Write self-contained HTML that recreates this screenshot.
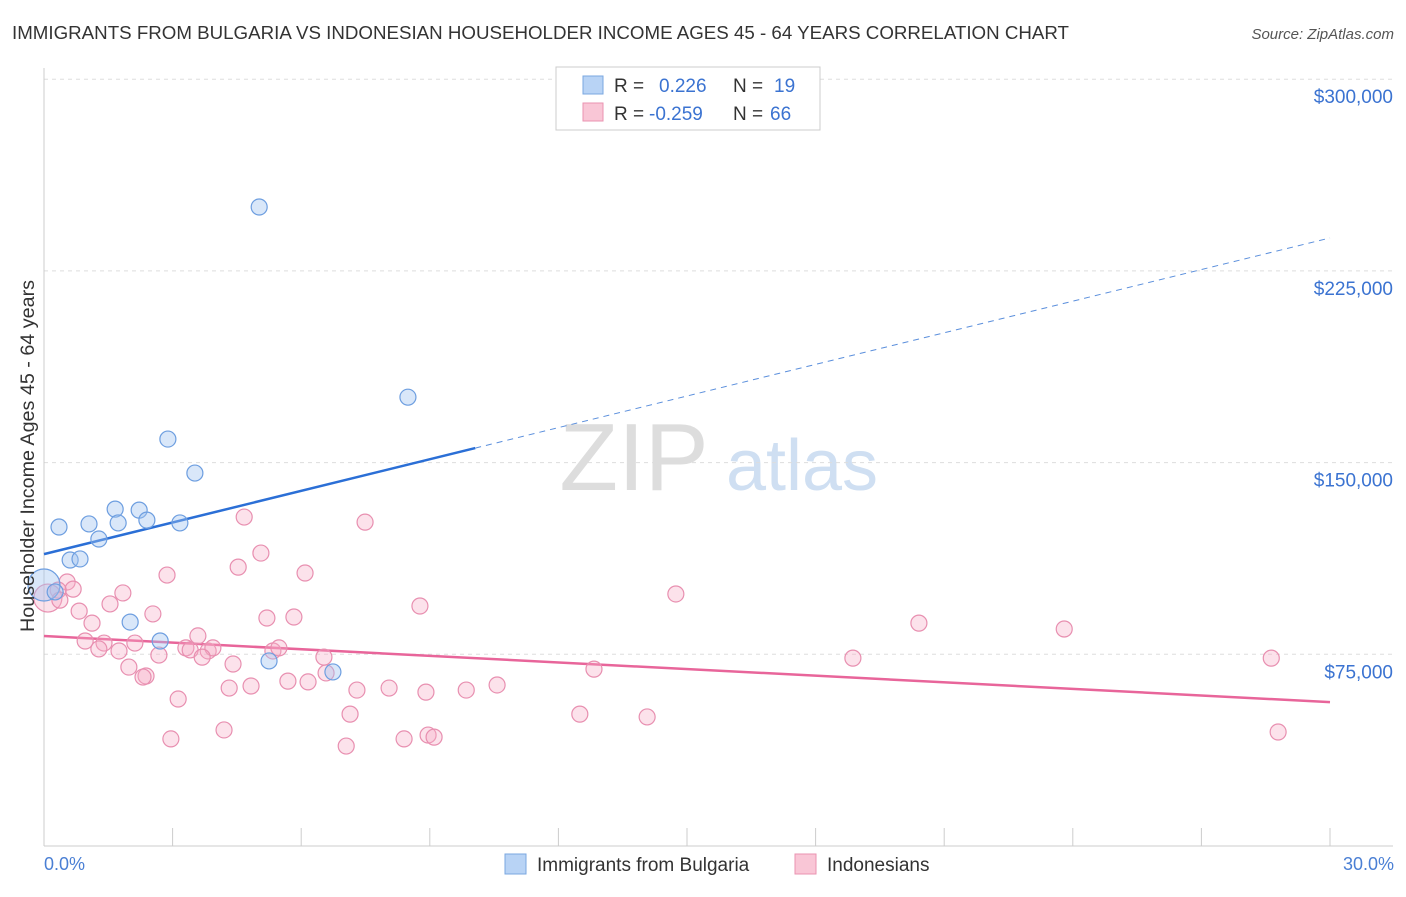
<!DOCTYPE html>
<html><head><meta charset="utf-8"><style>
body{margin:0;background:#fff;font-family:"Liberation Sans",sans-serif;}
svg text{font-family:"Liberation Sans",sans-serif;}
</style></head><body>
<svg id="chart" width="1406" height="892" xmlns="http://www.w3.org/2000/svg">
<text x="12" y="39" font-size="18" fill="#333" textLength="1057" lengthAdjust="spacingAndGlyphs">IMMIGRANTS FROM BULGARIA VS INDONESIAN HOUSEHOLDER INCOME AGES 45 - 64 YEARS CORRELATION CHART</text>
<text x="1394" y="39" font-size="15" fill="#555" text-anchor="end" font-style="italic">Source: ZipAtlas.com</text>
<g>
<text x="634" y="490" font-size="96" fill="#ddd" text-anchor="middle" font-family="Liberation Serif">ZIP</text>
<text x="802" y="490" font-size="72" fill="#cfdff2" text-anchor="middle">atlas</text>
</g>
<g id="grid"></g>
<g id="axes"></g>
<g id="trends"></g>
<g id="points"></g>
<text transform="translate(34,456) rotate(-90)" font-size="19" fill="#333" text-anchor="middle" textLength="352" lengthAdjust="spacingAndGlyphs">Householder Income Ages 45 - 64 years</text>
<text x="44" y="870" font-size="18" fill="#4a7fd4">0.0%</text>
<text x="1394" y="870" font-size="18" fill="#4a7fd4" text-anchor="end">30.0%</text>
<g>
<rect x="556" y="67" width="264" height="63" fill="#fff" stroke="#ccc"/>
<rect x="583" y="76" width="20" height="18" fill="#b8d3f5" stroke="#7aa7e0"/>
<rect x="583" y="103" width="20" height="18" fill="#f9c6d6" stroke="#ea93b0"/>
<text x="614" y="92" font-size="19" fill="#333">R = <tspan x="659" fill="#3b73d1">0.226</tspan><tspan x="733">N = </tspan><tspan x="774" fill="#3b73d1">19</tspan></text>
<text x="614" y="120" font-size="19" fill="#333">R = <tspan x="649" fill="#3b73d1">-0.259</tspan><tspan x="733">N = </tspan><tspan x="770" fill="#3b73d1">66</tspan></text>
</g>
<g>
<rect x="505" y="854" width="21" height="20" fill="#b8d3f5" stroke="#7aa7e0"/>
<text x="537" y="871" font-size="19" fill="#333">Immigrants from Bulgaria</text>
<rect x="795" y="854" width="21" height="20" fill="#f9c6d6" stroke="#ea93b0"/>
<text x="827" y="871" font-size="19" fill="#333">Indonesians</text>
</g>
</svg>
<script>
const yTicks=[75000,150000,225000,300000];
const yTickLabels=["$75,000","$150,000","$225,000","$300,000"];
const xTicks=[0,3,6,9,12,15,18,21,24,27,30];
const bulgariaX=[5.02,8.49,2.89,3.52,0.35,1.05,1.66,1.73,2.22,2.40,3.17,1.28,0.61,0.84,0.0,0.26,2.01,2.71,5.25,6.74];
const bulgariaY=[250000,175600,159200,145900,124800,126000,131800,126400,131400,127500,126400,120100,111900,112300,102100,99400,87600,80200,72400,68100];
const indoX=[4.67,7.49,5.06,2.87,4.53,6.09,0.54,0.68,0.33,0.09,0.37,1.84,1.54,0.82,2.54,5.20,5.83,8.77,14.74,1.12,20.41,23.80,0.96,1.40,2.12,3.59,3.31,3.41,3.83,3.94,1.28,1.75,2.68,3.69,5.34,5.48,6.53,4.41,1.98,12.83,18.87,28.63,2.38,2.31,6.58,5.69,6.16,10.57,4.32,4.83,7.30,8.05,8.91,9.85,3.13,7.14,12.50,14.07,4.20,2.96,7.05,8.40,8.96,9.10,28.79];
const indoY=[128700,126700,114600,106000,109100,106800,103300,100500,100100,97000,96200,99000,94700,91900,90800,89200,89600,93900,98600,87200,87200,84900,80200,79400,79400,82200,77500,76700,76300,77500,77100,76300,74700,73900,76300,77500,73900,71200,70000,69200,73500,73500,66500,66100,67700,64500,64200,63000,61800,62600,61000,61800,60200,61000,57500,51600,51600,50500,45400,41900,39100,41900,43400,42600,44600];
const blueTrend=[114200,237900];const blueSolidEnd=10.06;
const pinkTrend=[82150,56300];
const NS="http://www.w3.org/2000/svg";
const X=v=>44+v/30*1286, Y=v=>846-v/75000*191.7;
function mk(t,a,p){const e=document.createElementNS(NS,t);for(const k in a)e.setAttribute(k,a[k]);document.getElementById(p).appendChild(e);return e;}
yTicks.forEach((t,i)=>{
 const l=mk('line',{x1:44,x2:1393,y1:Y(t),y2:Y(t),stroke:'#ddd','stroke-dasharray':'4,4'},'grid');
 
 
 const tx=mk('text',{x:1393,y:Y(t)+24,'font-size':19,fill:'#3b73d1','text-anchor':'end'},'grid');tx.textContent=yTickLabels[i];
 
 
});
const ax=mk('line',{x1:44,x2:44,y1:68,y2:846,stroke:'#ccc'},'axes');


const bx=mk('line',{x1:44,x2:1393,y1:846,y2:846,stroke:'#ccc'},'axes');


xTicks.forEach(t=>{const l=mk('line',{x1:X(t),x2:X(t),y1:828,y2:846,stroke:'#ccc'},'axes');
 
 });
const bt=v=>blueTrend[0]+(blueTrend[1]-blueTrend[0])*v/30;
let l1=mk('line',{x1:X(0),y1:Y(bt(0)),x2:X(blueSolidEnd),y2:Y(bt(blueSolidEnd)),stroke:'#2b6fd6','stroke-width':2.5},'trends');


let l2=mk('line',{x1:X(blueSolidEnd),y1:Y(bt(blueSolidEnd)),x2:X(30),y2:Y(bt(30)),stroke:'#5b8fdc','stroke-width':1,'stroke-dasharray':'6,5'},'trends');


let l3=mk('line',{x1:X(0),y1:Y(pinkTrend[0]),x2:X(30),y2:Y(pinkTrend[1]),stroke:'#e8659a','stroke-width':2.5},'trends');


indoX.forEach((x,i)=>{const c=mk('circle',{cx:X(x),cy:Y(indoY[i]),r:i==9?14:8,fill:'rgba(246,172,198,0.35)',stroke:'#e88fb0','stroke-width':1.2},'points');
 
 });
bulgariaX.forEach((x,i)=>{const c=mk('circle',{cx:X(x),cy:Y(bulgariaY[i]),r:i==14?16:8,fill:'rgba(160,195,240,0.4)',stroke:'#6d9ee0','stroke-width':1.2},'points');
 
 });
</script>
</body></html>
